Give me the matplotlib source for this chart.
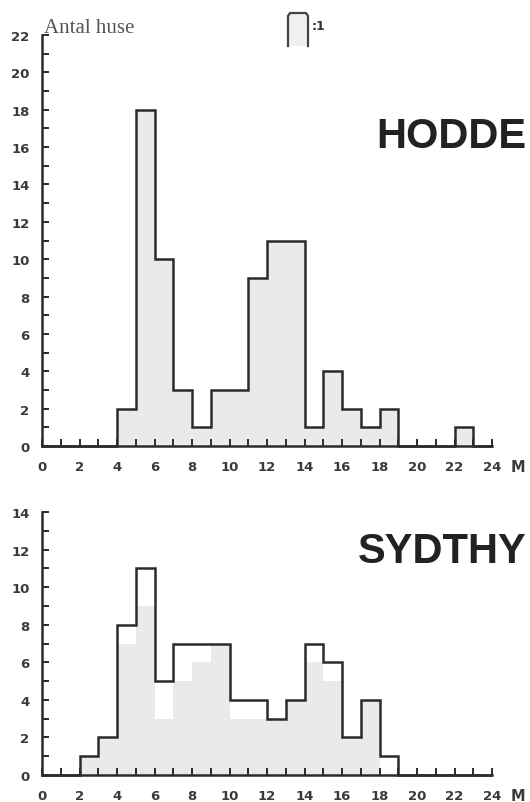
import matplotlib
matplotlib.use("Agg")
import matplotlib.pyplot as plt
from matplotlib.lines import Line2D
from matplotlib.patches import Polygon
import numpy as np

# ---- data ----
edges = list(range(0, 25))  # metre bins 0..24
hodde_counts = [0, 0, 0, 0, 2, 18, 10, 3, 1, 3, 3, 9, 11, 11, 1, 4, 2, 1, 2, 0, 0, 0, 1, 0]
sydthy_total = [0, 0, 1, 2, 8, 11, 5, 7, 7, 7, 4, 4, 3, 4, 7, 6, 2, 4, 1, 0, 0, 0, 0, 0]
sydthy_shaded = [0, 0, 1, 2, 7, 9, 3, 5, 6, 7, 3, 3, 3, 4, 6, 5, 2, 4, 0, 0, 0, 0, 0, 0]
x_ticks = list(range(0, 25, 2))
hodde_yticks = list(range(0, 23, 2))
sydthy_yticks = list(range(0, 15, 2))

W, H = 530, 803
fig = plt.figure(figsize=(W / 100, H / 100), dpi=100)

INK = "#2b2b2b"
FILL = "#eaeaea"
TICKFONT = dict(family="DejaVu Sans", weight="bold", size=9.5, color="#3a3a3a")


def px(x, y):
    return x / W, 1 - y / H


def style_axes(ax, ymax, yticks):
    ax.set_xlim(0, 24)
    ax.set_ylim(0, ymax)
    for s in ("top", "right"):
        ax.spines[s].set_visible(False)
    for s in ("left", "bottom"):
        ax.spines[s].set_linewidth(1.8)
        ax.spines[s].set_color(INK)
    ax.set_xticks(x_ticks)
    ax.set_xticks(range(0, 25), minor=True)
    ax.set_yticks(yticks)
    ax.set_yticks(range(0, ymax + 1), minor=True)
    ax.set_xticklabels([str(t) for t in x_ticks], **TICKFONT)
    ax.set_yticklabels([str(t) for t in yticks], **TICKFONT)
    ax.tick_params(axis="both", which="both", direction="in", length=5, width=1.4, color=INK)
    ax.tick_params(axis="x", which="major", pad=10)
    ax.tick_params(axis="y", which="major", pad=9)
    ax.patch.set_alpha(0)
    ax.text(25.4, -1.1, "M", ha="center", va="center", clip_on=False,
            family="DejaVu Sans", weight="bold", size=10.5, color="#3a3a3a")


# ---- top: HODDE ----
ax1 = fig.add_axes([42 / W, (H - 447) / H, 450 / W, 411 / H])
style_axes(ax1, 22, hodde_yticks)
ax1.stairs(hodde_counts, edges, fill=True, color=FILL, zorder=1)
ax1.stairs(hodde_counts, edges, baseline=0, fill=False, color=INK, linewidth=1.8,
           zorder=2, clip_on=False)

# ---- bottom: SYDTHY ----
ax2 = fig.add_axes([42 / W, (H - 776) / H, 450 / W, 263 / H])
style_axes(ax2, 14, sydthy_yticks)
ax2.stairs(sydthy_shaded, edges, fill=True, color=FILL, zorder=1)
ax2.stairs(sydthy_total, edges, baseline=0, fill=False, color=INK, linewidth=1.8,
           zorder=2, clip_on=False)

# ---- texts ----
fig.text(*px(44, 33), "Antal huse", family="Liberation Serif", size=15,
         color="#555555", ha="left", va="baseline")
fig.text(*px(526, 148), "HODDE", family="Liberation Sans", weight="bold", size=30,
         color="#222222", ha="right", va="baseline")
fig.text(*px(527, 563), "SYDTHY", family="Liberation Sans", weight="bold", size=30,
         color="#222222", ha="right", va="baseline")

# legend symbol (one bar unit) and ":1"
sym_x = [288, 288, 290, 306, 308, 308]
sym_y = [47, 17, 14, 14, 17, 47]
poly = Polygon([px(x, y) for x, y in zip(sym_x, sym_y)], closed=True,
               transform=fig.transFigure, facecolor="#f0f0f0", edgecolor="none")
fig.add_artist(poly)
fig.add_artist(Line2D([px(x, 0)[0] for x in sym_x], [px(0, y)[1] for y in sym_y],
                      transform=fig.transFigure, color="#444444", linewidth=1.6))
fig.text(*px(312, 27), ":1", family="DejaVu Sans", weight="bold", size=9,
         color="#333333", ha="left", va="center")

fig.savefig("out.png", dpi=100, facecolor="white")
